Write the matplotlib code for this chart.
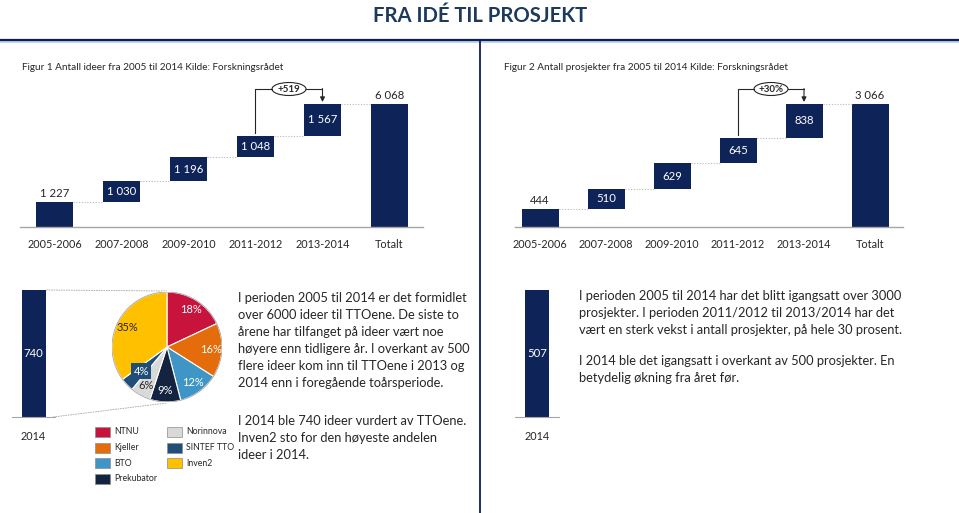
import matplotlib
matplotlib.use("Agg")
import matplotlib.pyplot as plt
from matplotlib.patches import Ellipse, Rectangle, Circle
import numpy as np

W, H = 959, 513
plt.rcParams['font.family'] = ['Lato', 'DejaVu Sans']

# ---------------- data ----------------
title = "FRA IDÉ TIL PROSJEKT"
periods = ["2005-2006", "2007-2008", "2009-2010", "2011-2012", "2013-2014"]
total_label = "Totalt"
ideas = [1227, 1030, 1196, 1048, 1567]
ideas_total = 6068
projects = [444, 510, 629, 645, 838]
projects_total = 3066
year_label = "2014"
ideas_2014 = 740
projects_2014 = 507
tto_names = ["NTNU", "Kjeller", "BTO", "Prekubator", "Norinnova", "SINTEF TTO", "Inven2"]
tto_share = [18, 16, 12, 9, 6, 4, 35]
tto_colors = ["#C8143C", "#E46C0A", "#3E95C6", "#14233F", "#D9D9D9", "#1F4E78", "#FFC000"]
tto_label_colors = ["white", "white", "white", "white", "#262626", "white", "#262626"]
caption1 = "Figur 1 Antall ideer fra 2005 til 2014 Kilde: Forskningsrådet"
caption2 = "Figur 2 Antall prosjekter fra 2005 til 2014 Kilde: Forskningsrådet"
text_left = ["I perioden 2005 til 2014 er det formidlet",
             "over 6000 ideer til TTOene. De siste to",
             "årene har tilfanget på ideer vært noe",
             "høyere enn tidligere år. I overkant av 500",
             "flere ideer kom inn til TTOene i 2013 og",
             "2014 enn i foregående toårsperiode.",
             "",
             "I 2014 ble 740 ideer vurdert av TTOene.",
             "Inven2 sto for den høyeste andelen",
             "ideer i 2014."]
text_right = ["I perioden 2005 til 2014 har det blitt igangsatt over 3000",
              "prosjekter. I perioden 2011/2012 til 2013/2014 har det",
              "vært en sterk vekst i antall prosjekter, på hele 30 prosent.",
              "",
              "I 2014 ble det igangsatt i overkant av 500 prosjekter. En",
              "betydelig økning fra året før."]

NAVY = "#0E2358"
TXT = "#262626"
GRAY = "#A6A6A6"

fig = plt.figure(figsize=(W / 100, H / 100), dpi=100)
renderer = fig.canvas.get_renderer()


def px_axes(x0, y0, x1, y1):
    ax = fig.add_axes([x0 / W, 1 - y1 / H, (x1 - x0) / W, (y1 - y0) / H])
    ax.patch.set_alpha(0)
    return ax


def fit(t, width_px):
    bb = t.get_window_extent(renderer)
    t.set_fontsize(t.get_fontsize() * width_px / bb.width)
    return t.get_fontsize()


def fmt(v):
    return f"{v:,}".replace(",", " ")


bg = fig.add_axes([0, 0, 1, 1])
bg.set_xlim(0, W)
bg.set_ylim(H, 0)
bg.axis("off")

# title & frame
t = bg.text(480, 16, title, ha="center", va="center", fontweight="bold", color="#1B3A5C", fontsize=16)
fit(t, 214)
bg.plot([0, W], [42, 42], color="#C5D3E8", lw=1.5, solid_capstyle="butt")
bg.plot([0, W], [40, 40], color="#0E1F55", lw=1.6, solid_capstyle="butt")
bg.plot([480, 480], [40, H], color="#0E1F55", lw=1.3)


def waterfall(x0, x1, c0, step, vals, total, caption, cap_x, cap_w, delta_label):
    t = bg.text(cap_x, 67, caption, ha="left", va="center", fontsize=7, color=TXT)
    fit(t, cap_w)
    ax = px_axes(x0, 80, x1, 227)
    n = len(vals)
    w = 37 / step
    ax.set_xlim((x0 - c0) / step, (x1 - c0) / step)
    ax.set_ylim(0, total * 147 / 123)
    unit = total / 123
    vals = np.array(vals)
    bottoms = np.concatenate([[0], np.cumsum(vals)[:-1]])
    tops = bottoms + vals
    xs = np.arange(n + 1)
    ax.bar(xs[:n], vals, bottom=bottoms, width=w, color=NAVY)
    ax.bar(xs[n], total, width=w, color=NAVY)
    ax.text(xs[0], tops[0] + 3 * unit, fmt(vals[0]), ha="center", va="bottom", fontsize=8.2, color=TXT)
    for i in range(1, n):
        ax.text(xs[i], bottoms[i] + vals[i] / 2, fmt(vals[i]), ha="center", va="center",
                fontsize=8.2, color="white")
    ax.text(xs[n], total + 3 * unit, fmt(total), ha="center", va="bottom", fontsize=8.2, color=TXT)
    for i in range(n):
        ax.plot([xs[i] + w / 2, xs[i + 1] - w / 2], [tops[i], tops[i]], color="#B8B8B8",
                lw=0.8, ls=(0, (1, 1.5)))
    for s in ["top", "right", "left"]:
        ax.spines[s].set_visible(False)
    ax.spines["bottom"].set_color(GRAY)
    ax.spines["bottom"].set_linewidth(1)
    ax.set_yticks([])
    ax.set_xticks(xs)
    ax.set_xticklabels(periods + [total_label], fontsize=7.8, color=TXT)
    ax.tick_params(axis="x", length=0, pad=9)
    # growth bracket
    yb = tops[n - 1] + 15 * unit
    ew, eh = 34 / step, 13 * unit
    xm = (xs[n - 2] + xs[n - 1]) / 2
    ax.plot([xs[n - 2], xs[n - 2], xm - ew / 2], [tops[n - 2] + 3 * unit, yb, yb],
            color=TXT, lw=0.8, clip_on=False)
    ax.plot([xm + ew / 2, xs[n - 1]], [yb, yb], color=TXT, lw=0.8, clip_on=False)
    ax.annotate("", xy=(xs[n - 1], tops[n - 1] + 2 * unit), xytext=(xs[n - 1], yb + 0.4 * unit),
                arrowprops=dict(arrowstyle="-|>", color=TXT, lw=0.8, mutation_scale=7,
                                shrinkA=0, shrinkB=0))
    ax.add_patch(Ellipse((xm, yb), ew, eh, fc="white", ec=TXT, lw=0.8, clip_on=False))
    ax.text(xm, yb, delta_label, ha="center", va="center", fontsize=7, fontweight="bold", color=TXT)


waterfall(20, 423, 54.5, 67, ideas, ideas_total, caption1, 22, 261,
          f"+{ideas[-1] - ideas[-2]}")
waterfall(515, 903, 540, 66, projects, projects_total, caption2, 504, 284,
          f"+{round(100 * (projects[-1] - projects[-2]) / projects[-2])}%")


def single_bar(x0, x1, value):
    ax = px_axes(x0, 290, x1, 417)
    ax.set_xlim(-0.5, 0.5)
    ax.set_ylim(0, value)
    ax.bar([0], [value], width=24 / (x1 - x0), color=NAVY)
    ax.text(0, value / 2, str(value), ha="center", va="center", fontsize=8.2, color="white")
    for s in ["top", "right", "left"]:
        ax.spines[s].set_visible(False)
    ax.spines["bottom"].set_color(GRAY)
    ax.set_yticks([])
    ax.set_xticks([0])
    ax.set_xticklabels([year_label], fontsize=7.8, color=TXT)
    ax.tick_params(axis="x", length=0, pad=10)


single_bar(12, 55, ideas_2014)
single_bar(515, 559, projects_2014)

# connector lines bar -> pie
bg.plot([46, 167], [290, 291], color=GRAY, lw=0.6, ls=(0, (2, 1)))
bg.plot([53, 167], [417, 403], color=GRAY, lw=0.6, ls=(0, (2, 1)))

# pie
pax = px_axes(112, 292, 222, 402)
wedges, texts, autotexts = pax.pie(
    tto_share, colors=tto_colors, startangle=90, counterclock=False,
    autopct=lambda p: f"{p:.0f}%", pctdistance=0.8,
    wedgeprops=dict(edgecolor="white", linewidth=0.8), textprops=dict(fontsize=8))
pax.add_patch(Circle((0, 0), 1, fill=False, ec=GRAY, lw=0.6))
pax.set_xlim(-1, 1)
pax.set_ylim(-1, 1)
pax.set_aspect("equal", adjustable="box")
for at, c in zip(autotexts, tto_label_colors):
    at.set_color(c)
sin_i = tto_names.index("SINTEF TTO")
x, y = autotexts[sin_i].get_position()
autotexts[sin_i].set_position((x * 0.8, y * 0.8))
autotexts[sin_i].set_bbox(dict(boxstyle="square,pad=0.2", fc=tto_colors[sin_i], ec="none"))

# legend
for i, (name, col) in enumerate(zip(tto_names, tto_colors)):
    r, c = i % 4, i // 4
    lx = 95 + 72 * c
    ly = 432 + 15.6 * r
    bg.add_patch(Rectangle((lx, ly - 5), 15, 10, fc=col, ec="#8C8C8C", lw=0.5))
    tl = bg.text(lx + 19, ly, name, ha="left", va="center", fontsize=6.3, color=TXT)

# paragraphs
probe = bg.text(0, -50, text_left[3], fontsize=10)
fs_left = fit(probe, 234)
probe.remove()
for k, line in enumerate(text_left):
    bg.text(238, 298 + 17 * k + (4 if k > 6 else 0), line, ha="left", va="center",
            fontsize=fs_left, color=TXT)
probe = bg.text(0, -50, text_right[2], fontsize=10)
fs_right = fit(probe, 325)
probe.remove()
for k, line in enumerate(text_right):
    bg.text(579, 296 + 17 * k + (-3 if k > 2 else 0), line, ha="left", va="center",
            fontsize=fs_right, color=TXT)

fig.savefig("out.png", dpi=100)
